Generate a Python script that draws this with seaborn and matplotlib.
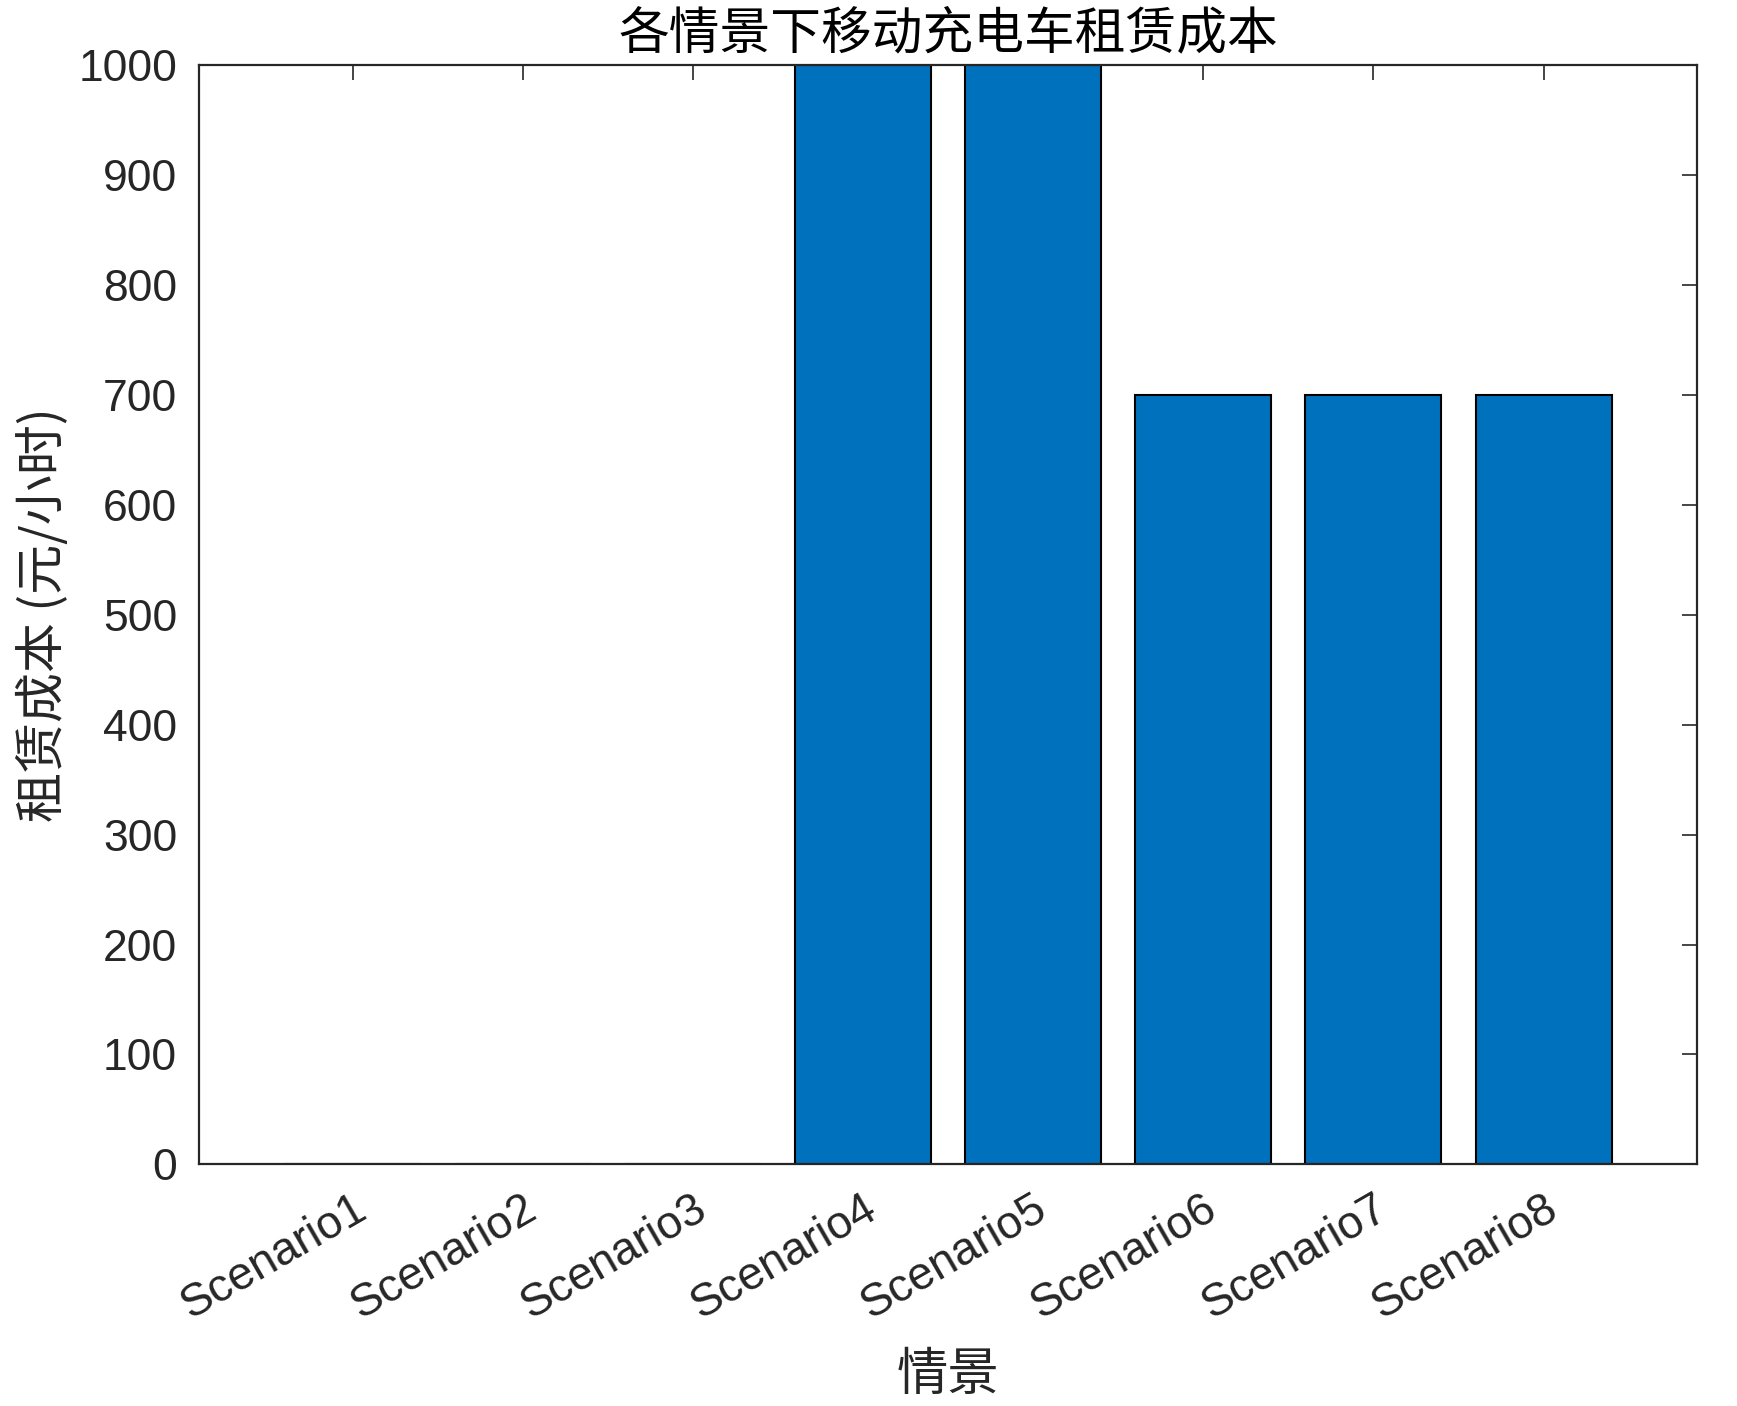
import numpy as np
import matplotlib
matplotlib.use("Agg")
import matplotlib.pyplot as plt
import pandas as pd
import seaborn as sns

# 数据
scenarios = ["Scenario1", "Scenario2", "Scenario3", "Scenario4",
             "Scenario5", "Scenario6", "Scenario7", "Scenario8"]
rent_cost = [0, 0, 0, 1000, 1000, 700, 700, 700]
y_ticks = [0, 100, 200, 300, 400, 500, 600, 700, 800, 900, 1000]

title_text = "各情景下移动充电车租赁成本"
x_label = "情景"
y_label = "租赁成本 (元/小时)"

sns.set_theme(style="white")
plt.rcParams['font.family'] = ['Liberation Sans', 'Noto Sans CJK SC', 'DejaVu Sans']
cjk = ['Noto Sans CJK SC', 'DejaVu Sans']
text_color = "#262626"

df = pd.DataFrame({"scenario": scenarios, "cost": rent_cost})

fig = plt.figure(figsize=(17.37, 14.06), dpi=100)
ax = fig.add_axes([0.1148, 0.1719, 0.862, 0.7816])

sns.barplot(data=df, x="scenario", y="cost", color="#0072BD", saturation=1,
            edgecolor="black", linewidth=1.5, width=0.8, ax=ax)

ax.set_xlim(-0.9, 7.9)
ax.set_ylim(0, 1000)
ax.set_yticks(y_ticks)
ax.set_yticklabels([str(v) for v in y_ticks])

for s in ax.spines.values():
    s.set_visible(True)
    s.set_color(text_color)
    s.set_linewidth(1.6)

ax.tick_params(axis="both", direction="in", length=11, width=1.2, color=text_color,
               labelcolor=text_color, labelsize=32, top=True, right=True, pad=16)
ax.tick_params(axis="x", labelsize=33)
plt.setp(ax.get_xticklabels(), rotation=30, ha="right", rotation_mode="anchor")

ax.set_title(title_text, fontsize=36.5, family=cjk, color="black", pad=12)
ax.set_xlabel(x_label, fontsize=37, family=cjk, color=text_color, labelpad=15)
ax.set_ylabel(y_label, fontsize=36, family=cjk, color=text_color, labelpad=6)

fig.savefig("out.png", dpi=100)
